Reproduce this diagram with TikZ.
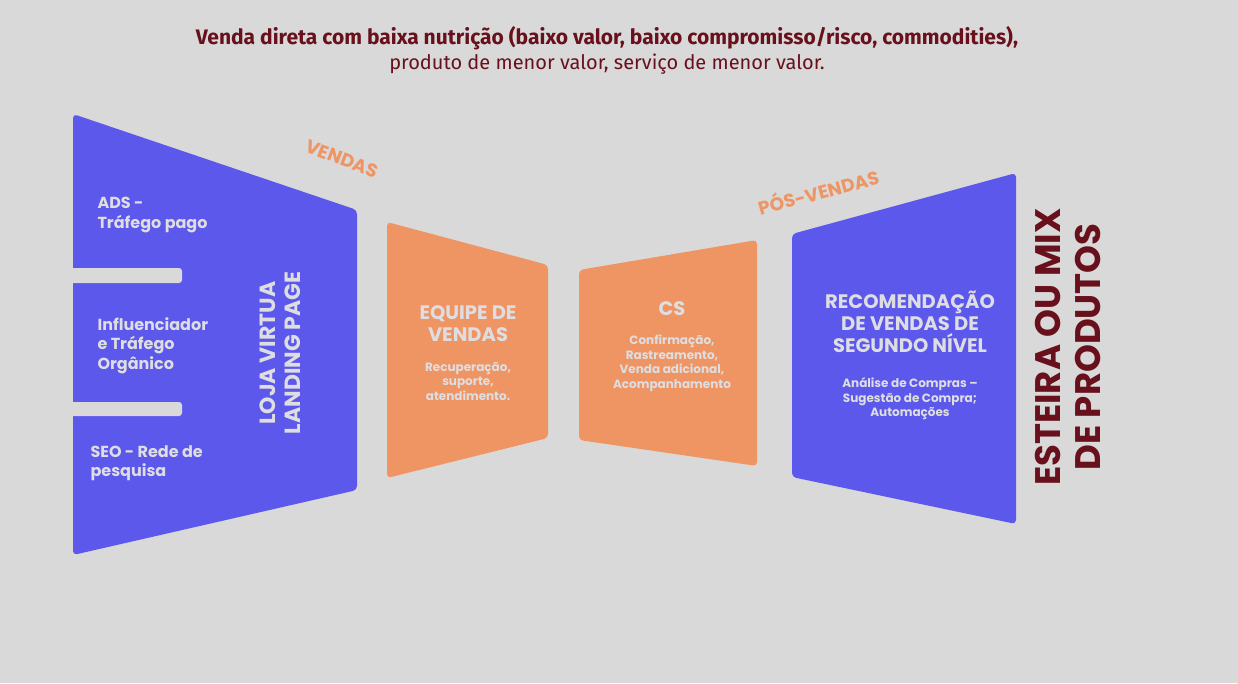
\documentclass[tikz,border=0pt]{standalone}
\usepackage{fontspec}
\setmainfont{Poppins}
\newfontfamily\headfont{Fira Sans}
\usetikzlibrary{positioning}

\definecolor{funilazul}{RGB}{91,88,235}
\definecolor{funillaranja}{RGB}{238,149,99}
\definecolor{vinho}{RGB}{104,16,28}
\definecolor{fundo}{RGB}{217,217,217}
\definecolor{textoclaro}{RGB}{222,222,226}

\begin{document}
\begin{tikzpicture}[x=1pt, y=-1pt,
        bloco/.style={rounded corners=4pt},
        titulo/.style={text=textoclaro, align=center, font=\fontsize{19.5}{22}\selectfont\bfseries},
        detalhe/.style={text=textoclaro, align=center, font=\fontsize{12}{14.5}\selectfont\bfseries},
        canal/.style={text=textoclaro, align=left, anchor=north west, font=\fontsize{16}{19.5}\selectfont\bfseries},
        etapa/.style={text=funillaranja, font=\fontsize{18.5}{20}\selectfont\bfseries}]

        % Background
        \fill[fundo] (0,0) rectangle (1238,683);
        \useasboundingbox (0,0) rectangle (1238,683);

        % Header text
        \node[text=vinho, font=\headfont\fontsize{21}{23}\selectfont\bfseries] (cabeca) at (607,38) {Venda direta com baixa nutrição (baixo valor, baixo compromisso/risco, commodities),};
        \node[text=vinho, font=\headfont\fontsize{20}{23}\selectfont, below=-3pt of cabeca] (subcabeca) {produto de menor valor, serviço de menor valor.};

        % Left funnel - Loja virtual
        \fill[funilazul, bloco] (73,114) -- (357,210) -- (357,490) -- (73,555) -- cycle;
        \fill[fundo, rounded corners=3pt] (60,268) rectangle (182,283);
        \fill[fundo, rounded corners=3pt] (60,402) rectangle (182,416);
        \node[canal] (ads) at (94,194) {ADS -\\Tráfego pago};
        \node[canal] (influ) at (94,314) {Influenciador\\e Tráfego\\Orgânico};
        \node[canal] (seo) at (87,442) {SEO - Rede de\\pesquisa};
        \node[text=textoclaro, align=center, rotate=90, font=\fontsize{22}{25}\selectfont\bfseries] (loja) at (280,353) {LOJA VIRTUA\\LANDING PAGE};

        % Equipe de vendas
        \fill[funillaranja, bloco] (387,222) -- (548,265) -- (548,438) -- (387,478) -- cycle;
        \node[titulo] (equipe) at (468,324) {EQUIPE DE\\VENDAS};
        \node[detalhe, below=13pt of equipe] (equipetxt) {Recuperação,\\suporte,\\atendimento.};

        % CS
        \fill[funillaranja, bloco] (579,270) -- (757,240) -- (757,466) -- (579,440) -- cycle;
        \node[titulo] (cs) at (672,309) {CS};
        \node[detalhe, below=12pt of cs] (cstxt) {Confirmação,\\Rastreamento,\\Venda adicional,\\Acompanhamento};

        % Recomendacao de segundo nivel
        \fill[funilazul, bloco] (792,234) -- (1016,173) -- (1016,524) -- (792,477) -- cycle;
        \node[titulo] (recom) at (910,322) {RECOMENDAÇÃO\\DE VENDAS DE\\SEGUNDO NÍVEL};
        \node[detalhe, below=18pt of recom] (recomtxt) {Análise de Compras –\\Sugestão de Compra;\\Automações};

        % Stage labels
        \node[etapa, rotate=-21] (vendas) at (342,159) {VENDAS};
        \node[etapa, rotate=15] (posvendas) at (818,191) {PÓS-VENDAS};

        % Side title
        \node[text=vinho, align=center, rotate=90, font=\fontsize{35.5}{40}\selectfont\bfseries] (esteira) at (1068,347) {ESTEIRA OU MIX\\DE PRODUTOS};
    \end{tikzpicture}
\end{document}
